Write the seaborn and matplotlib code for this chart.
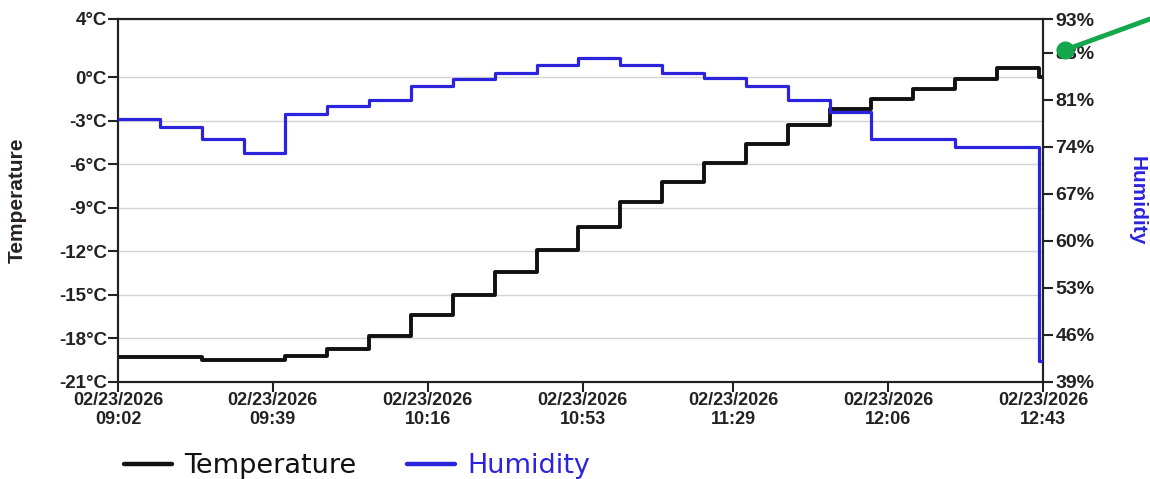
import numpy as np
import pandas as pd
import matplotlib
matplotlib.use("Agg")
import matplotlib.pyplot as plt
import seaborn as sns
from matplotlib.lines import Line2D

# ---------------- data ----------------
date = "2026-02-23"
times = ["09:02", "09:12", "09:22", "09:32", "09:42", "09:52", "10:02", "10:12",
         "10:22", "10:32", "10:42", "10:52", "11:02", "11:12", "11:22", "11:32",
         "11:42", "11:52", "12:02", "12:12", "12:22", "12:32", "12:42", "12:43"]
temperature = [-19.3, -19.3, -19.5, -19.5, -19.2, -18.7, -17.8, -16.4,
               -15.0, -13.4, -11.9, -10.3, -8.6, -7.2, -5.9, -4.6,
               -3.3, -2.2, -1.5, -0.8, -0.1, 0.6, 0.0, 0.0]
humidity = [78.1, 77.0, 75.1, 73.1, 78.9, 80.0, 81.0, 83.0,
            84.1, 85.0, 86.1, 87.2, 86.2, 85.0, 84.2, 83.0,
            81.0, 79.2, 75.1, 75.1, 74.0, 74.0, 42.1, 42.1]

temp_ticks = [4, 0, -3, -6, -9, -12, -15, -18, -21]
temp_labels = ["4°C", "0°C", "-3°C", "-6°C", "-9°C", "-12°C", "-15°C", "-18°C", "-21°C"]
hum_ticks = [93, 88, 81, 74, 67, 60, 53, 46, 39]
hum_labels = ["93%", "88%", "81%", "74%", "67%", "60%", "53%", "46%", "39%"]
x_tick_times = ["09:02", "09:39", "10:16", "10:53", "11:29", "12:06", "12:43"]
x_tick_labels = ["02/23/2026\n" + t for t in x_tick_times]

df = pd.DataFrame({
    "time": pd.to_datetime([f"{date} {t}" for t in times]),
    "Temperature": temperature,
    "Humidity": humidity,
})

# ---------------- style ----------------
sns.set_style("white")
plt.rcParams["font.family"] = ["Liberation Sans", "DejaVu Sans"]

BLUE = "#2c24dc"
BLACK = "#111111"

fig = plt.figure(figsize=(11.5, 4.79), dpi=100)
ax = fig.add_axes([118 / 1150, 1 - 382 / 479, (1043 - 118) / 1150, (382 - 19) / 479])
ax2 = ax.twinx()

sns.lineplot(data=df, x="time", y="Temperature", ax=ax, color=BLACK,
             linewidth=2.8, drawstyle="steps-post", legend=False, zorder=3)
sns.lineplot(data=df, x="time", y="Humidity", ax=ax2, color=BLUE,
             linewidth=2.3, drawstyle="steps-post", legend=False, zorder=3)

ax.set_xlim(df["time"].iloc[0], df["time"].iloc[-1])
ax.set_ylim(-21, 4)
ax2.set_ylim(39, 93)

ax.set_yticks(temp_ticks)
ax.set_yticklabels(temp_labels)
ax.yaxis.grid(True, color="#d4d4d4", linewidth=1.0)
ax.xaxis.grid(False)
ax.set_axisbelow(True)

ax2.set_yticks(hum_ticks)
ax2.set_yticklabels(hum_labels)
ax2.grid(False)

xt = pd.to_datetime([f"{date} {t}" for t in x_tick_times])
ax.set_xticks(xt)
ax.set_xticklabels(x_tick_labels, linespacing=1.2)

for a in (ax, ax2):
    for s in a.spines.values():
        s.set_color("#222222")
        s.set_linewidth(1.5)

ax.tick_params(axis="y", which="major", direction="out", length=7, width=1.5,
               color="#222222", labelsize=13.5, pad=1, labelcolor="#222222", left=True)
ax.tick_params(axis="x", which="major", direction="out", length=7, width=1.5,
               color="#222222", labelsize=13, pad=0, labelcolor="#222222", bottom=True)
ax2.tick_params(axis="y", which="major", direction="out", length=7, width=1.5,
                color="#222222", labelsize=14, pad=2, labelcolor="#222222", right=True)
for lbl in ax.get_yticklabels() + ax.get_xticklabels() + ax2.get_yticklabels():
    lbl.set_fontweight("bold")

ax.set_xlabel("")
ax.set_ylabel("Temperature", fontsize=15, fontweight="bold", color="#2a2222")
ax.yaxis.set_label_coords(-0.0985, 0.5)
ax2.set_ylabel("Humidity", fontsize=15, fontweight="bold", color=BLUE, rotation=270)
ax2.yaxis.set_label_coords(1.102, 0.5)
ax2.yaxis.label.set_va("center")

# legend
handles = [Line2D([0], [0], color=BLACK, lw=3.2), Line2D([0], [0], color=BLUE, lw=3.2)]
leg = fig.legend(handles, ["Temperature", "Humidity"], loc="center",
                 bbox_to_anchor=(357 / 1150, 1 - 466 / 479), ncol=2, frameon=False,
                 prop={"family": "DejaVu Sans", "size": 19.5},
                 handlelength=1.75, handletextpad=0.45, columnspacing=1.9)
leg.get_texts()[0].set_color(BLACK)
leg.get_texts()[1].set_color(BLUE)

# green pointer annotation
W, H = 1150, 479
fig.add_artist(Line2D([1065 / W, 1150 / W], [1 - 50 / H, 1 - 19 / H],
                      color="#13a84c", lw=3.5, transform=fig.transFigure, zorder=10))
fig.add_artist(Line2D([1065 / W], [1 - 50 / H], marker="o", markersize=12,
                      color="#13a84c", transform=fig.transFigure, zorder=11))

fig.savefig("out.png", dpi=100, facecolor="white")
